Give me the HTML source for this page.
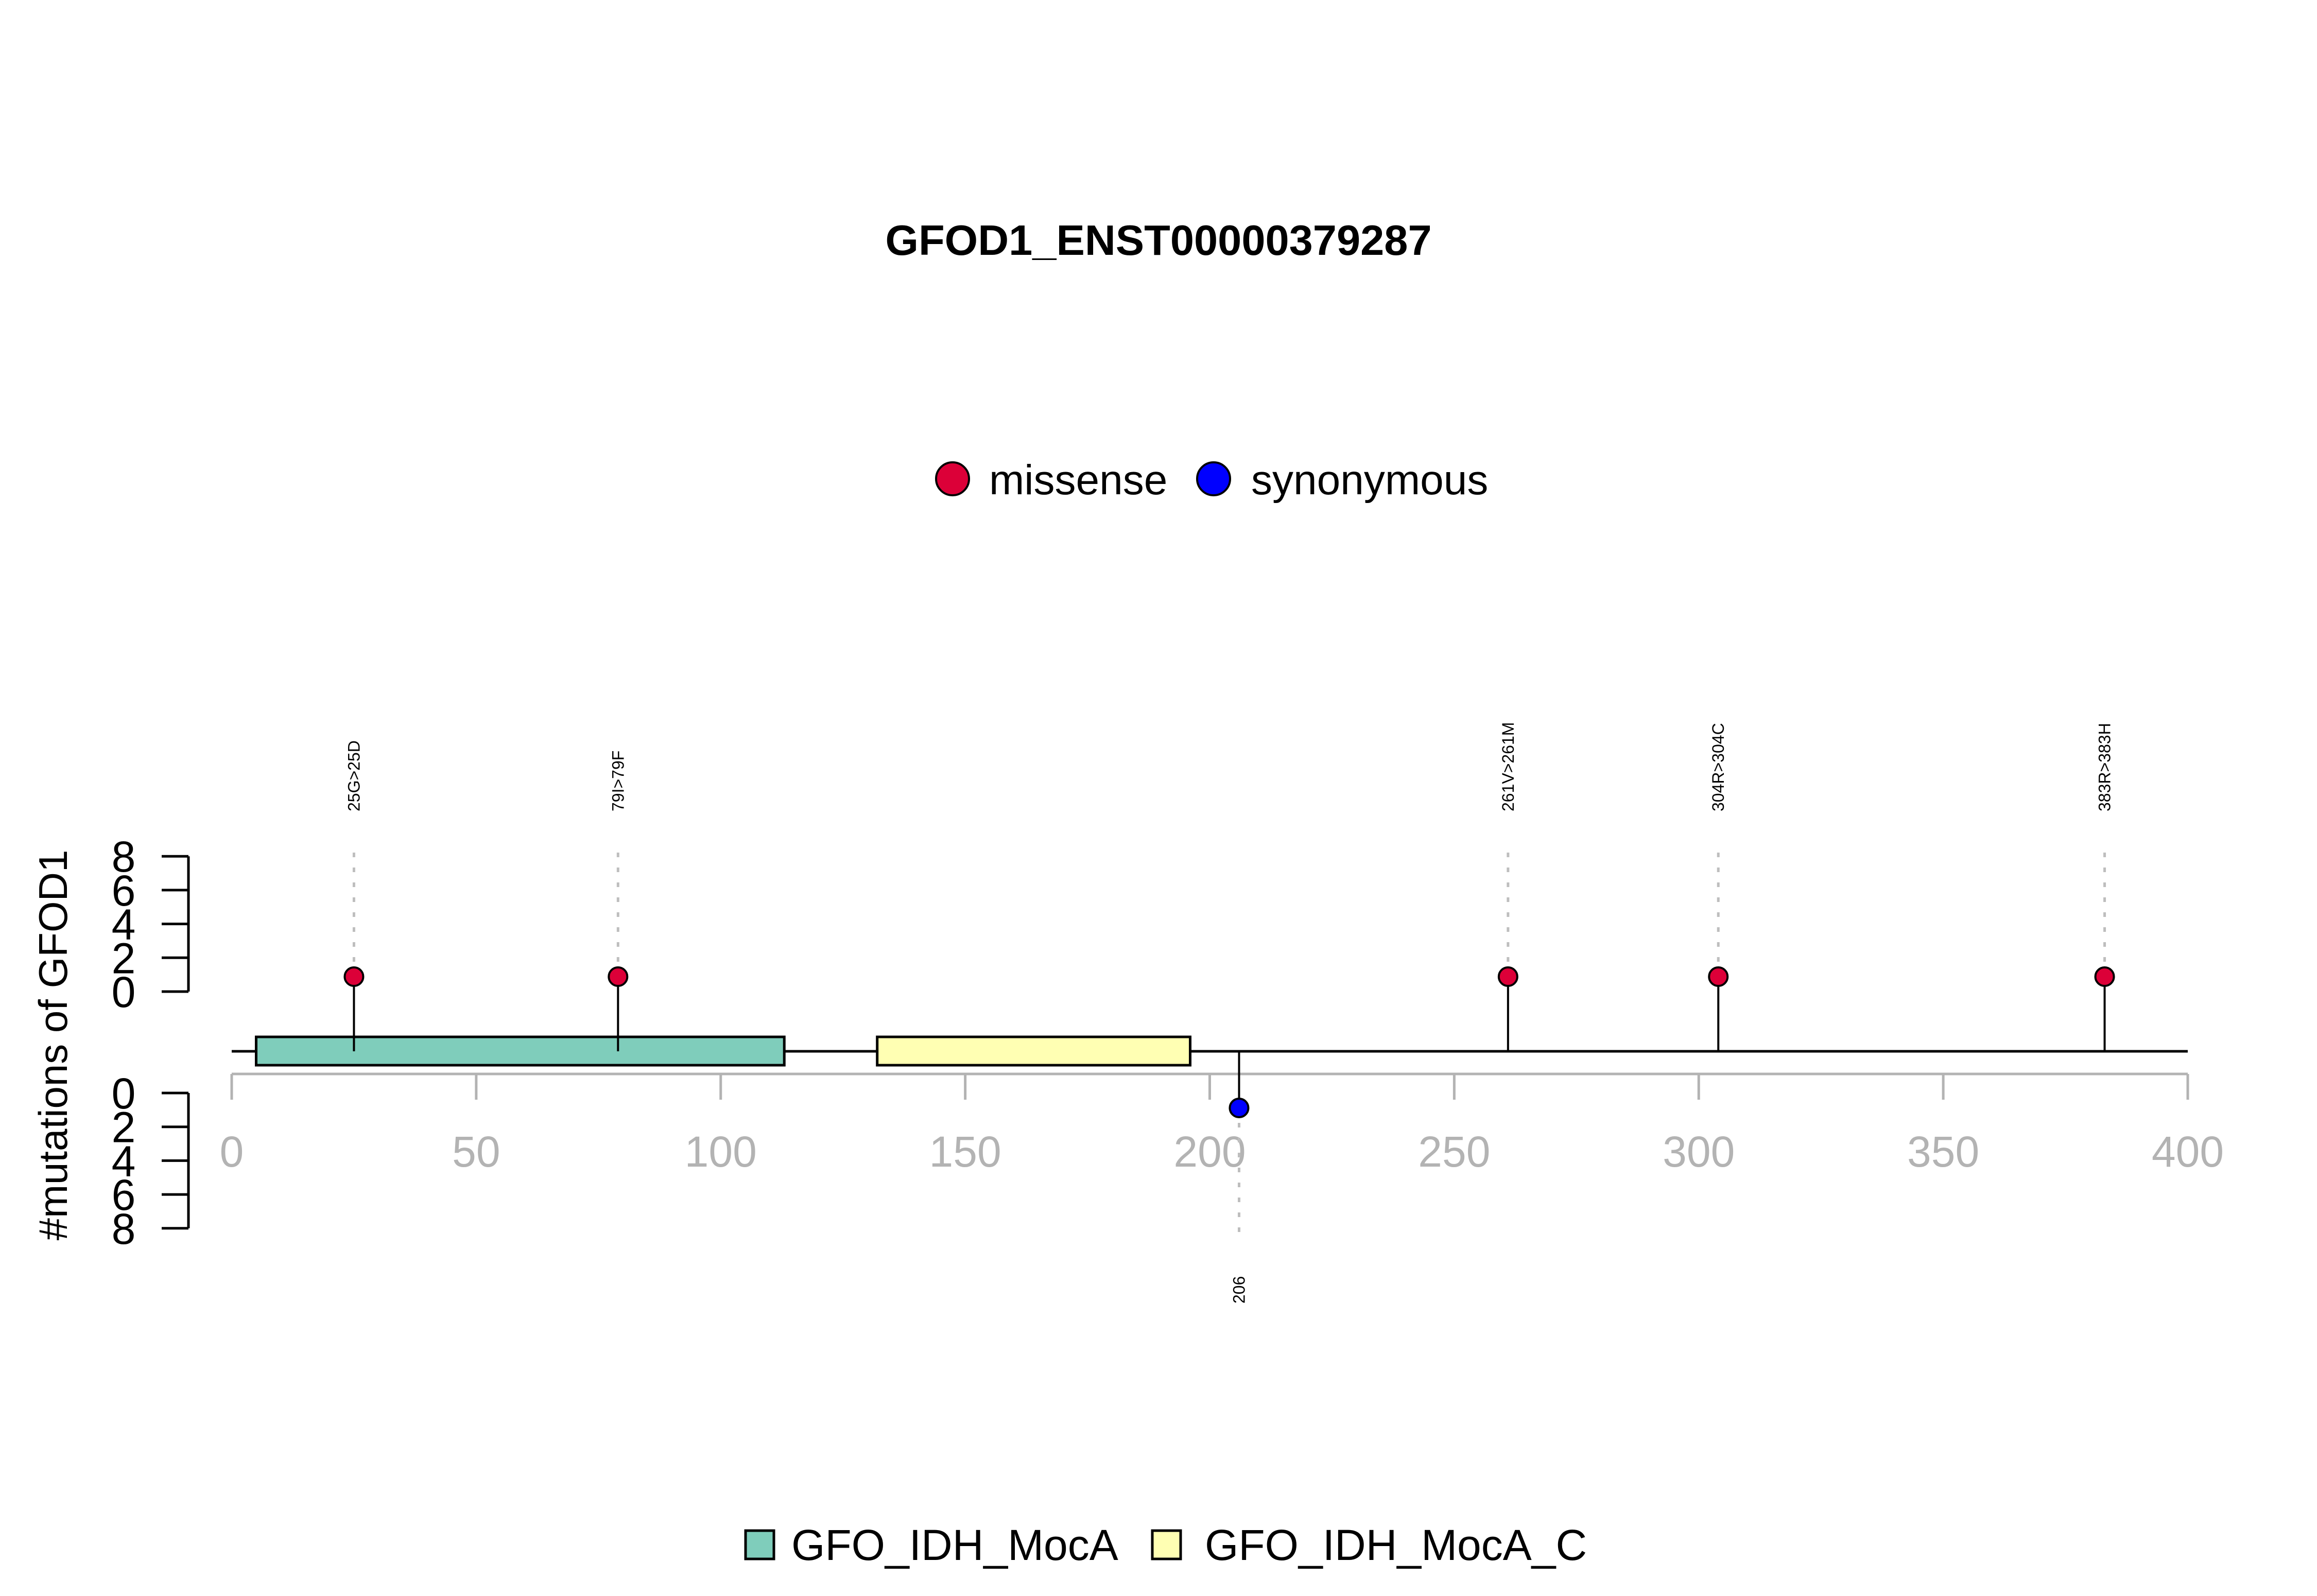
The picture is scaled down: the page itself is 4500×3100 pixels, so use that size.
<!DOCTYPE html>
<html><head><meta charset="utf-8"><style>
html,body{margin:0;padding:0;background:#fff;}
svg{display:block;font-family:"Liberation Sans",Arial,sans-serif;}
</style></head><body>
<svg id="chart" width="4500" height="3100" viewBox="0 0 4500 3100" xmlns="http://www.w3.org/2000/svg">
<rect width="4500" height="3100" fill="#fff"/>
<text x="2250" y="495" font-size="83" font-weight="bold" text-anchor="middle">GFOD1_ENST00000379287</text>
<g>
  <circle cx="1850" cy="930" r="32" fill="#DC0038" stroke="#000" stroke-width="4"/>
  <text x="1921" y="960" font-size="82">missense</text>
  <circle cx="2357" cy="930" r="32" fill="#0000FF" stroke="#000" stroke-width="4"/>
  <text x="2430" y="960" font-size="82">synonymous</text>
</g>
<g>
  <text transform="translate(130,2030) rotate(-90)" font-size="78" text-anchor="middle">#mutations of GFOD1</text>
</g>
<g id="plot"></g>
<g>
  <rect x="1448" y="2973" width="55" height="55" fill="#7FCDBB" stroke="#000" stroke-width="5"/>
  <text x="1537" y="3030" font-size="84">GFO_IDH_MocA</text>
  <rect x="2238" y="2973" width="55" height="55" fill="#FFFFB3" stroke="#000" stroke-width="5"/>
  <text x="2340" y="3030" font-size="84">GFO_IDH_MocA_C</text>
</g>
</svg>
<script>
// data
const proteinLength = [0, 400];
const domainNames = ["GFO_IDH_MocA", "GFO_IDH_MocA_C"];
const domainStarts = [5, 132];
const domainEnds = [113, 196];
const domainColors = ["#7FCDBB", "#FFFFB3"];
const mutPositions = [25, 79, 261, 304, 383, 206];
const mutCounts = [1, 1, 1, 1, 1, 1];
const mutTypes = ["missense", "missense", "missense", "missense", "missense", "synonymous"];
const mutLabels = ["25G>25D", "79I>79F", "261V>261M", "304R>304C", "383R>383H", "206"];
const xTicks = [0, 50, 100, 150, 200, 250, 300, 350, 400];
const yTicks = [0, 2, 4, 6, 8];

const NS = "http://www.w3.org/2000/svg";
const plot = document.getElementById('plot');
const X0 = 450, X1 = 4249;
const xs = v => X0 + (v - proteinLength[0]) / (proteinLength[1] - proteinLength[0]) * (X1 - X0);
const BACK = 2042, AXY = 2086;
const UP0 = 1926, LO0 = 2123, UNIT = 32.85, PUNIT = 29;
const yUp = v => UP0 - v * UNIT;
const yLo = v => LO0 + v * UNIT;
function mk(tag, attrs, parent) {
  const e = document.createElementNS(NS, tag);
  for (const k in attrs) e.setAttribute(k, attrs[k]);
  (parent || plot).appendChild(e);
  return e;
}
// y axes
[[yUp, 'upper'], [yLo, 'lower']].forEach(([f, nm]) => {
  const ax = mk('line', {x1: 366, x2: 366, y1: f(0), y2: f(8), stroke: '#000', 'stroke-width': 5});
  
  
  yTicks.forEach(t => {
    const tk = mk('line', {x1: 314, x2: 366, y1: f(t), y2: f(t), stroke: '#000', 'stroke-width': 5});
    
    
    const tl = mk('text', {x: 240, y: f(t) + 30, 'font-size': 84, 'text-anchor': 'middle'});
    tl.textContent = t;
    
    
  });
});
// x axis
const xl = mk('line', {x1: xs(0), x2: xs(400), y1: AXY, y2: AXY, stroke: '#B3B3B3', 'stroke-width': 5});


xTicks.forEach(t => {
  const tk = mk('line', {x1: xs(t), x2: xs(t), y1: AXY, y2: 2136, stroke: '#B3B3B3', 'stroke-width': 5});
  
  
  const tl = mk('text', {x: xs(t), y: 2266, 'font-size': 84, 'text-anchor': 'middle', fill: '#B3B3B3'});
  tl.textContent = t;
  
  
});
// backbone
const bb = mk('line', {x1: xs(proteinLength[0]), x2: xs(proteinLength[1]), y1: BACK, y2: BACK, stroke: '#000', 'stroke-width': 5});


domainStarts.forEach((s, i) => {
  const r = mk('rect', {x: xs(s), y: 2014, width: xs(domainEnds[i]) - xs(s), height: 55, fill: domainColors[i], stroke: '#000', 'stroke-width': 5});
  
  
});
// mutations
mutPositions.forEach((p, i) => {
  const x = xs(p);
  const up = mutTypes[i] === 'missense';
  const py = up ? UP0 - mutCounts[i] * PUNIT : LO0 + mutCounts[i] * PUNIT;
  const dashEnd = up ? 1648 : 2402;
  const d = mk('line', {x1: x, x2: x, y1: py, y2: dashEnd, stroke: '#BEBEBE', 'stroke-width': 5, 'stroke-dasharray': '9 20'});
  
  
  const st = mk('line', {x1: x, x2: x, y1: BACK, y2: py, stroke: '#000', 'stroke-width': 4});
  
  
  const c = mk('circle', {cx: x, cy: py, r: 18, fill: up ? '#DC0038' : '#0000FF', stroke: '#000', 'stroke-width': 4});
  
  
  let t;
  if (up) {
    t = mk('text', {transform: 'translate(' + (x + 11) + ',1576) rotate(-90)', 'font-size': 32});
  } else {
    t = mk('text', {transform: 'translate(' + (x + 11) + ',2532) rotate(-90)', 'font-size': 32});
  }
  t.textContent = mutLabels[i];
  
  
});
</script>
</body></html>
